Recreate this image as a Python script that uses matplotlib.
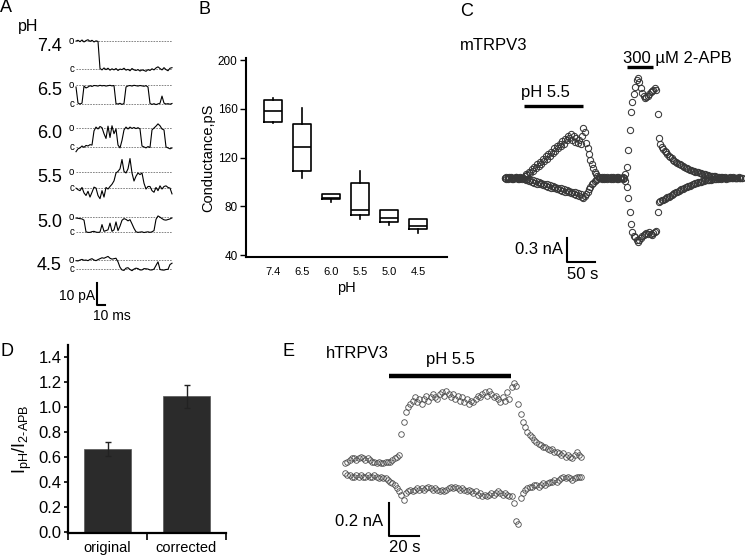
import numpy as np
import matplotlib
matplotlib.use('Agg')
import matplotlib.pyplot as plt

plt.rcParams['font.family'] = ['Liberation Sans', 'DejaVu Sans']
plt.rcParams['mathtext.fontset'] = 'custom'
plt.rcParams['mathtext.rm'] = 'Liberation Sans'
plt.rcParams['mathtext.it'] = 'Liberation Sans:italic'
plt.rcParams['mathtext.default'] = 'regular'

# ---------------- data ----------------
# A: single channel records, fraction of open level, one sample every 2.5 ms
ph_rows = ['7.4', '6.5', '6.0', '5.5', '5.0', '4.5']
unit_pA = [12.7, 8.6, 8.6, 7.3, 6.8, 4.1]
trace_74 = [1.0, 1.03, 0.98, 1.04, 0.97, 1.02, 1.05, 0.99, 1.03, 0.97, 1.01, 0.99,
            0.02, -0.03, 0.04, -0.02, 0.03, -0.04, 0.01, -0.03, 0.02, -0.05, 0.0, -0.02,
            0.03, -0.04, -0.01, -0.06, 0.02, -0.03, -0.05, -0.02, -0.07, -0.03, -0.05, -0.08,
            -0.02, -0.05, 0.01, -0.03, 0.04, 0.08, 0.02, -0.03, 0.05, -0.02, -0.06, 0.03, 0.05]
trace_65 = [0.9, 0.05, 0.0, 0.05, 0.95, 0.85, 0.9, 0.97, 0.93, 0.98, 0.97, 0.95,
            0.99, 0.96, 0.98, 0.95, 0.97, 0.99, 0.96, 0.98, 0.02, 0.0, 0.04, -0.02,
            0.03, 0.9, 0.96, 0.98, 0.95, 0.99, 0.97, 0.95, 0.98, 0.96, 0.94, 0.97,
            0.9, 0.03, -0.02, 0.02, -0.03, 0.01, 0.04, 0.42, 0.05, 0.0, 0.02, -0.01, 0.03]
trace_60 = [-0.25, -0.1, -0.05, 0.05, -0.02, 0.08, 0.05, 0.12, 0.1, 0.85, 1.05, 0.95,
            1.08, 1.02, 0.7, 0.45, 1.1, 0.5, 1.12, 0.7, 0.95, 0.1, -0.05, 0.35,
            0.9, 1.05, 0.95, 1.05, 0.98, 1.03, 0.97, 1.02, 0.95, 0.05, 0.0, -0.05,
            0.02, -0.03, 0.9, 1.0, 1.1, 1.22, 1.12, 0.95, 0.9, 0.0, -0.05, -0.1, -0.05]
trace_55 = [0.0, -0.1, -0.16, 0.04, -0.3, -0.46, -0.2, -0.56, -0.26, 0.06, 0.0, -0.46,
            -0.66, -0.16, -0.56, 0.04, -0.06, 0.1, 0.24, 0.45, 0.94, 1.04, 1.2, 1.78,
            1.04, 0.94, 1.2, 1.84, 0.94, 0.44, 0.74, 0.94, 0.84, 0.94, 0.3, -0.06,
            0.1, 0.1, -0.16, -0.26, 0.04, -0.16, 0.14, -0.06, 0.1, 0.14, 0.04, 0.0, -0.36]
trace_50 = [0.94, 0.92, 0.9, 0.88, 0.8, 0.02, -0.02, -0.02, 0.03, 0.05, 0.0, -0.02,
            0.0, 0.5, 0.05, 0.1, 0.15, 0.6, 0.05, 0.15, 0.68, 0.1, 0.4, 0.79,
            0.9, 0.85, 0.75, 0.83, 0.55, 0.25, 0.02, -0.02, 0.0, 0.02, -0.03, 0.0,
            0.02, -0.02, 0.02, 0.1, 0.85, 1.08, 1.0, 0.9, 0.82, 0.8, 0.84, 0.88, 0.95]
trace_45 = [0.93, 0.9, 1.0, 1.07, 0.97, 1.0, 0.93, 1.07, 1.15, 1.0, 0.93, 1.05,
            1.15, 1.25, 1.2, 1.3, 1.4, 1.2, 1.1, 1.15, 1.2, 0.8, 0.2, -0.1,
            -0.15, 0.1, 0.15, -0.05, -0.18, 0.0, 0.1, 0.05, -0.1, -0.1, 0.05, 0.03,
            0.0, -0.1, -0.1, 0.0, 0.4, 0.8, -0.05, -0.1, -0.12, -0.05, -0.03, 0.5, 0.65]
traces_A = [trace_74, trace_65, trace_60, trace_55, trace_50, trace_45]
dt_A = 2.5  # ms

# B: unitary conductance (pS) box stats
ph_labels = ['7.4', '6.5', '6.0', '5.5', '5.0', '4.5']
cond_med = [158, 129, 86.5, 77, 70.7, 64.2]
cond_q1 = [149, 109, 86.2, 73, 66.9, 61.1]
cond_q3 = [167, 147.5, 90, 99.3, 77, 69.8]
cond_lo = [148, 103, 83.8, 70, 64.6, 58.3]
cond_hi = [168.6, 160.4, 90, 109, 77, 69.8]

# C: mTRPV3 currents (nA), one point every 2.5 s
dt_C = 2.5
c_up = [0.0, 0.01, -0.01, 0.0, 0.01, 0.0, -0.01, 0.0, 0.01, 0.0, -0.01, 0.01, 0.0, 0.0,
        0.02, 0.05, 0.04, 0.08, 0.06, 0.11, 0.09, 0.14, 0.12, 0.17, 0.15, 0.20, 0.18,
        0.24, 0.21, 0.27, 0.24, 0.30, 0.27, 0.33, 0.31, 0.37, 0.34, 0.40, 0.37, 0.43,
        0.40, 0.46, 0.43, 0.49, 0.47, 0.52, 0.50,
        0.55, 0.48, 0.52, 0.45, 0.50, 0.44, 0.48, 0.43, 0.52, 0.62, 0.58,
        0.44, 0.37, 0.3, 0.23, 0.18, 0.13, 0.08, 0.05, 0.02, 0.01,
        0.0, 0.01, 0.0, -0.01, 0.0, 0.01, 0.0, 0.0, -0.01, 0.01, 0.0, 0.0, 0.01, -0.01,
        0.0, 0.0, 0.01, 0.0,
        0.05, 0.14, 0.35, 0.6, 0.82, 0.95, 1.05, 1.14, 1.22, 1.25, 1.2, 1.12, 1.06, 1.02,
        1.0, 1.01, 1.03, 1.05, 1.08, 1.09, 1.1, 1.12, 1.1,
        0.8, 0.5, 0.42, 0.39, 0.36, 0.34, 0.32, 0.30, 0.28, 0.26, 0.245, 0.23, 0.215, 0.2,
        0.19, 0.18, 0.17, 0.16, 0.15, 0.14, 0.13, 0.12, 0.115, 0.105, 0.1, 0.09, 0.085,
        0.08, 0.075, 0.07, 0.065, 0.06, 0.055, 0.05, 0.045, 0.04, 0.035, 0.03, 0.03,
        0.025, 0.02, 0.02,
        0.015, 0.015, 0.01, 0.01, 0.01, 0.005, 0.01, 0.0, 0.005, 0.0, 0.01, 0.0, 0.0,
        0.005, 0.0, 0.0, 0.01, 0.0, 0.0]
c_dn = [0.0, -0.01, 0.0, 0.01, 0.0, -0.01, 0.0, 0.0, 0.01, -0.01, 0.0, 0.0, -0.01, 0.0,
        -0.01, -0.03, -0.01, -0.04, -0.02, -0.05, -0.03, -0.06, -0.04, -0.07, -0.05,
        -0.08, -0.06, -0.09, -0.07, -0.10, -0.08, -0.11, -0.09, -0.12, -0.10, -0.13,
        -0.11, -0.14, -0.12, -0.15, -0.13, -0.16, -0.14, -0.17, -0.15, -0.18, -0.16,
        -0.19, -0.17, -0.20, -0.18, -0.21, -0.19, -0.23, -0.20, -0.24,
        -0.25, -0.23, -0.2, -0.17, -0.14, -0.11, -0.08, -0.06, -0.04, -0.02, -0.01, 0.0,
        0.0, -0.01, 0.0, 0.01, 0.0, -0.01, 0.0, 0.0, 0.01, -0.01, 0.0, 0.0, -0.01, 0.01,
        0.0, 0.0, -0.01, 0.0,
        -0.04, -0.11, -0.25, -0.42, -0.58, -0.67, -0.72, -0.74, -0.78, -0.80, -0.77,
        -0.75, -0.73, -0.71, -0.70, -0.69, -0.70, -0.68, -0.70, -0.71, -0.69, -0.67, -0.66,
        -0.42, -0.30, -0.29, -0.28, -0.27, -0.26, -0.25, -0.24, -0.235, -0.23, -0.215,
        -0.2, -0.19, -0.18, -0.17, -0.16, -0.15, -0.14, -0.135, -0.125, -0.115, -0.11,
        -0.1, -0.095, -0.085, -0.08, -0.07, -0.065, -0.06, -0.055, -0.05, -0.045, -0.04,
        -0.035, -0.03, -0.03, -0.025, -0.02, -0.02, -0.015, -0.015, -0.01,
        -0.01, -0.01, -0.005, -0.01, 0.0, -0.005, 0.0, -0.01, 0.0, 0.0, -0.005, 0.0,
        0.01, 0.0, 0.0, -0.005, 0.0, 0.0, 0.0]
c_ph_on = (34, 139)      # s
c_apb_on = (218, 264)    # s

# D: current ratio
d_groups = ['original', 'corrected']
d_mean = [0.663, 1.086]
d_sem = [0.058, 0.092]

# E: hTRPV3 currents (nA), one point every 1.5 s
dt_E = 1.5
e_up = [0.04, 0.05, 0.06, 0.07, 0.07, 0.06, 0.07, 0.08, 0.07, 0.06,
        0.07, 0.06, 0.05, 0.05, 0.04, 0.05, 0.04, 0.04, 0.05, 0.05,
        0.05, 0.06, 0.07, 0.08, 0.09, 0.22, 0.29, 0.35, 0.38, 0.40,
        0.42, 0.44, 0.41, 0.43, 0.40, 0.43, 0.45, 0.42, 0.44, 0.46,
        0.44, 0.43, 0.46, 0.47, 0.45, 0.48, 0.46, 0.44, 0.46, 0.43,
        0.45, 0.42, 0.44, 0.41, 0.43, 0.40, 0.42, 0.41, 0.43, 0.45,
        0.44, 0.46, 0.47, 0.45, 0.48, 0.46, 0.44, 0.45, 0.43, 0.41,
        0.44, 0.42, 0.47, 0.43, 0.50, 0.53, 0.51, 0.40, 0.34, 0.29,
        0.26, 0.23, 0.21, 0.20, 0.18, 0.17, 0.16, 0.15, 0.14, 0.14,
        0.13, 0.12, 0.13, 0.11, 0.11, 0.10, 0.09, 0.10, 0.08, 0.09,
        0.08, 0.07, 0.09, 0.11, 0.09, 0.08]
e_dn = [-0.02, -0.03, -0.03, -0.04, -0.04, -0.03, -0.04, -0.03, -0.04, -0.04,
        -0.03, -0.04, -0.04, -0.03, -0.04, -0.05, -0.04, -0.05, -0.05, -0.06,
        -0.07, -0.08, -0.09, -0.11, -0.13, -0.15, -0.18, -0.14, -0.13, -0.12,
        -0.13, -0.12, -0.11, -0.12, -0.11, -0.12, -0.11, -0.10, -0.11, -0.12,
        -0.11, -0.12, -0.13, -0.12, -0.13, -0.12, -0.11, -0.10, -0.11, -0.10,
        -0.11, -0.12, -0.11, -0.12, -0.13, -0.12, -0.13, -0.14, -0.13, -0.15,
        -0.14, -0.16, -0.15, -0.16, -0.15, -0.14, -0.15, -0.14, -0.13, -0.14,
        -0.15, -0.14, -0.15, -0.16, -0.16, -0.20, -0.31, -0.33, -0.17, -0.14,
        -0.12, -0.11, -0.10, -0.10, -0.09, -0.09, -0.10, -0.09, -0.08, -0.09,
        -0.08, -0.07, -0.07, -0.06, -0.07, -0.06, -0.05, -0.04, -0.05, -0.04,
        -0.05, -0.06, -0.05, -0.04, -0.04, -0.04]
e_ph_on = (29.3, 110.7)  # s

# ---------------- figure ----------------
W, H = 745, 555
fig = plt.figure(figsize=(W / 100, H / 100), dpi=100)


def box(l, t, r, b):
    # pixel box -> axes rect
    return [l / W, 1 - b / H, (r - l) / W, (b - t) / H]


def ftext(x, y, s, **kw):
    fig.text(x / W, 1 - y / H, s, **kw)


# panel letters
for lab, (x, y) in zip('ABCDE', [(0, 8), (198, 9), (460, 11), (0, 351), (283, 352)]):
    ftext(x, y, lab, fontsize=13, va='center', ha='left')

# ----- A -----
axA = fig.add_axes(box(60, 20, 190, 330))
axA.set_xlim(-20, 142.5)
axA.set_ylim(0, 140.9)
axA.axis('off')
row_base = [118.6, 102.7, 83.2, 64.5, 44.5, 27.7]
for lab, tr, amp, base in zip(ph_rows, traces_A, unit_pA, row_base):
    t = np.arange(len(tr)) * dt_A
    axA.hlines([base, base + amp], 0, t[-1], colors='0.45', linestyles=(0, (2, 1.3)), lw=0.6)
    axA.plot(t, base + np.array(tr) * amp, color='k', lw=0.8)
    axA.text(-2.0, base + amp, 'o', ha='right', va='center', fontsize=7)
    axA.text(-2.0, base, 'c', ha='right', va='center', fontsize=7)
    axA.text(-17.5, base + amp - 2.3, lab, ha='right', va='center', fontsize=13)
ftext(18, 26, 'pH', fontsize=11.5, va='center')
axA.plot([26.25, 26.25, 36.25], [21.4, 11.4, 11.4], color='k', lw=1.5)
axA.text(23.5, 15.5, '10 pA', ha='right', va='center', fontsize=10)
axA.text(21, 6.2, '10 ms', ha='left', va='center', fontsize=10)

# ----- B -----
axB = fig.add_axes(box(246, 58.2, 447, 257))
stats = [dict(med=m, q1=a, q3=b, whislo=lo, whishi=hi, fliers=[])
         for m, a, b, lo, hi in zip(cond_med, cond_q1, cond_q3, cond_lo, cond_hi)]
pos = np.arange(1, len(stats) + 1)
axB.bxp(stats, positions=pos, widths=0.65, showcaps=False, showfliers=False,
        boxprops=dict(color='k', lw=1.2), medianprops=dict(color='k', lw=1.2),
        whiskerprops=dict(color='k', lw=1.2))
axB.set_xlim(0.07, 7.0)
axB.set_ylim(38.4, 201.6)
axB.set_yticks([40, 80, 120, 160, 200])
axB.set_xticks(pos)
axB.set_xticklabels(ph_labels)
axB.tick_params(axis='y', labelsize=8.5, length=4, width=1, pad=2)
axB.tick_params(axis='x', labelsize=8, length=0, pad=7)
for s in ['top', 'right']:
    axB.spines[s].set_visible(False)
for s in ['left', 'bottom']:
    axB.spines[s].set_linewidth(1.5)
axB.set_ylabel('Conductance,pS', fontsize=10.5, labelpad=2)
axB.set_xlabel('pH', fontsize=10.5, labelpad=3)

# ----- C -----
axC = fig.add_axes(box(500, 50, 745, 290))
axC.set_xlim(-8.9, 428.6)
axC.set_ylim(-1.4, 1.6)
axC.axis('off')
tC = np.arange(len(c_up)) * dt_C
for tr in (c_up, c_dn):
    axC.plot(tC, tr, 'o', mfc='none', mec='0.22', ms=4.5, mew=0.75)
axC.plot(c_ph_on, [0.9, 0.9], color='k', lw=2.4, solid_capstyle='butt')
axC.plot(c_apb_on, [1.39, 1.39], color='k', lw=2.4, solid_capstyle='butt')
axC.text(28.6, 1.075, 'pH 5.5', fontsize=12, va='center')
axC.text(210.7, 1.5, '300 µM 2-APB', fontsize=12, va='center')
ftext(460, 45, 'mTRPV3', fontsize=12, va='center')
axC.plot([110.7, 110.7, 160.7], [-0.75, -1.05, -1.05], color='k', lw=1.5)
axC.text(103.6, -0.9, '0.3 nA', ha='right', va='center', fontsize=12)
axC.text(110.7, -1.21, '50 s', ha='left', va='center', fontsize=12)

# ----- D -----
axD = fig.add_axes(box(68, 345, 226, 533))
xD = np.arange(len(d_groups))
axD.bar(xD, d_mean, width=0.59, color='#2b2b2b', edgecolor='#555555', lw=0.5,
        yerr=d_sem, error_kw=dict(ecolor='#222222', elinewidth=1, capsize=2.5, capthick=1))
axD.set_xlim(-0.5, 1.5)
axD.set_ylim(-0.008, 1.494)
axD.set_yticks(np.arange(0, 1.41, 0.2))
axD.set_yticklabels(['%.1f' % v for v in np.arange(0, 1.41, 0.2)])
axD.set_xticks([-0.5, 0.5, 1.5])
axD.set_xticklabels([])
axD.set_xticks(xD, minor=True)
axD.set_xticklabels(d_groups, minor=True)
axD.tick_params(axis='y', labelsize=12, length=3, width=1.2, pad=1.5)
axD.tick_params(axis='x', which='major', length=5, width=1.2)
axD.tick_params(axis='x', which='minor', length=0, labelsize=10.5, pad=6)
for s in ['top', 'right']:
    axD.spines[s].set_visible(False)
for s in ['left', 'bottom']:
    axD.spines[s].set_linewidth(1.6)
axD.set_ylabel(r'I$_{pH}$/I$_{2\text{-}APB}$', fontsize=13, labelpad=3)

# ----- E -----
axE = fig.add_axes(box(330, 350, 600, 555))
axE.set_xlim(-10, 170)
axE.set_ylim(-0.515, 0.727)
axE.axis('off')
tE = np.arange(len(e_up)) * dt_E
for tr in (e_up, e_dn):
    axE.plot(tE, tr, 'o', mfc='none', mec='0.3', ms=4.0, mew=0.6)
axE.plot(e_ph_on, [0.57, 0.57], color='k', lw=3.2, solid_capstyle='butt')
axE.text(70, 0.667, 'pH 5.5', ha='center', va='center', fontsize=12)
ftext(326, 354, 'hTRPV3', fontsize=12, va='center')
axE.plot([29.3, 29.3, 49.3], [-0.2, -0.4, -0.4], color='k', lw=1.5)
axE.text(25.3, -0.315, '0.2 nA', ha='right', va='center', fontsize=12)
axE.text(29.3, -0.47, '20 s', ha='left', va='center', fontsize=12)

fig.savefig('out.png', dpi=100)
